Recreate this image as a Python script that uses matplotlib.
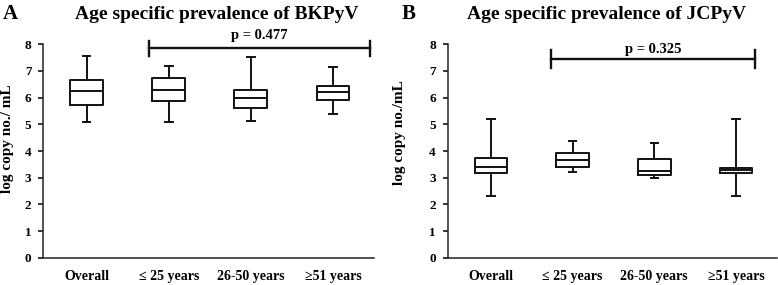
import numpy as np
import matplotlib.pyplot as plt

plt.rcParams['font.family'] = ['Liberation Serif', 'DejaVu Serif']
plt.rcParams['font.weight'] = 'bold'

groups = ['Overall', '\u2264 25 years', '26-50 years', '\u226551 years']

# five-number summaries: min, Q1, median, Q3, max
bk_min = [5.10, 5.10, 5.13, 5.38]
bk_q1 = [5.73, 5.86, 5.61, 5.90]
bk_med = [6.24, 6.30, 6.00, 6.21]
bk_q3 = [6.65, 6.73, 6.30, 6.45]
bk_max = [7.56, 7.18, 7.53, 7.14]

jc_min = [2.33, 3.22, 3.00, 2.33]
jc_q1 = [3.16, 3.40, 3.11, 3.16]
jc_med = [3.40, 3.66, 3.25, 3.27]
jc_q3 = [3.72, 3.92, 3.70, 3.37]
jc_max = [5.21, 4.37, 4.29, 5.21]

W, H = 778.0, 285.0

panels = [
    # label, title, ylabel, stats, p text, bracket y, x0, x1, cap half, p offset
    ('A', 'Age specific prevalence of BKPyV', 'log copy no./ mL',
     (bk_min, bk_q1, bk_med, bk_q3, bk_max), 'p = 0.477', 7.85, 1.76, 4.455, 0.27, 0.34),
    ('B', 'Age specific prevalence of JCPyV', 'log copy no./mL',
     (jc_min, jc_q1, jc_med, jc_q3, jc_max), 'p = 0.325', 7.44, 1.74, 4.235, 0.33, 0.24),
]
# pixel layout: axes left/right, title center, label x, ylabel center
px_axes = [(43.3, 374.0), (447.7, 776.7)]
px_title = [217, 607]
px_lab = [2.5, 401.5]
px_ylab = [(7.5, 138.5), (399, 132.5)]
y_bot, y_top = 257.7, 44.3

fig = plt.figure(figsize=(W / 100, H / 100), dpi=100)

for k, (lab, title, ylab, stats, ptxt, py, px0, px1, ph, poff) in enumerate(panels):
    x0, x1 = px_axes[k]
    ax = fig.add_axes([x0 / W, 1 - y_bot / H, (x1 - x0) / W, (y_bot - y_top) / H])
    mn, q1, md, q3, mx = stats
    bxps = []
    for i in range(len(groups)):
        bxps.append({'whislo': mn[i], 'q1': q1[i], 'med': md[i],
                     'q3': q3[i], 'whishi': mx[i], 'fliers': []})
    lp = dict(color='#111111', linewidth=1.4)
    ax.bxp(bxps, positions=range(1, 5), widths=0.40, capwidths=0.09,
           showfliers=False, boxprops=lp, whiskerprops=lp, capprops=lp,
           medianprops=lp)

    ax.set_xlim(0.47, 4.5)
    ax.set_ylim(0, 8)
    ax.set_yticks(range(0, 9))
    ax.set_xticks(range(1, 5))
    ax.set_xticklabels(groups, fontsize=10, fontweight='bold')
    ax.tick_params(axis='x', length=0, pad=9)
    ax.tick_params(axis='y', labelsize=9.5, length=3.5, width=1.1, pad=5)
    for t in ax.get_yticklabels():
        t.set_fontweight('bold')
    for s in ['top', 'right']:
        ax.spines[s].set_visible(False)
    for s in ['left', 'bottom']:
        ax.spines[s].set_linewidth(1.1)
        ax.spines[s].set_color('#222222')

    # significance bracket
    ax.plot([px0, px1], [py, py], color='#111111', lw=1.7, clip_on=False)
    ax.plot([px0, px0], [py - ph, py + ph], color='#111111', lw=1.7, clip_on=False)
    ax.plot([px1, px1], [py - ph, py + ph], color='#111111', lw=1.7, clip_on=False)
    ax.text((px0 + px1) / 2, py + poff, ptxt, ha='center', va='baseline',
            fontsize=10.5, fontweight='bold')

    yx, yy = px_ylab[k]
    fig.text(yx / W, 1 - yy / H, ylab, rotation=90, ha='center', va='center',
             fontsize=11, fontweight='bold')
    fig.text(px_title[k] / W, 1 - 18.8 / H, title, ha='center', va='baseline',
             fontsize=14, fontweight='bold')
    fig.text(px_lab[k] / W, 1 - 18.8 / H, lab, ha='left', va='baseline',
             fontsize=15, fontweight='bold')

fig.savefig('out.png', dpi=100)
